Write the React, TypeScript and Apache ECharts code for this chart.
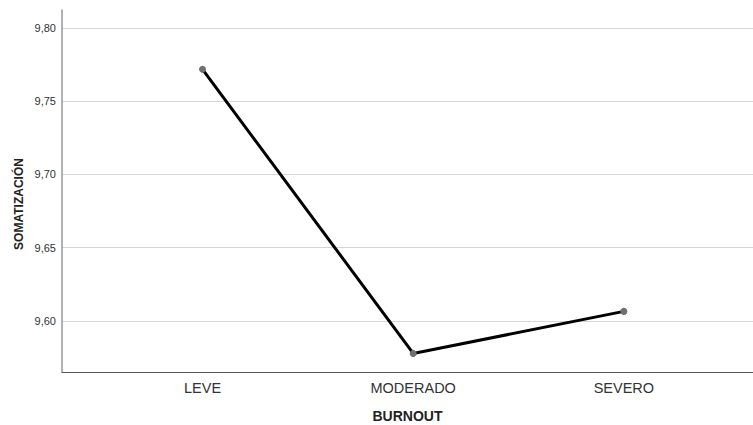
import React, { useEffect, useRef } from "react";
import * as echarts from "echarts";

const categories = ["LEVE", "MODERADO", "SEVERO"];
const values = [9.7718, 9.5777, 9.6064];
const yTicks = [9.6, 9.65, 9.7, 9.75, 9.8];
const yTitle = "SOMATIZACIÓN";
const xTitle = "BURNOUT";

export default function App() {
  const ref = useRef<HTMLDivElement>(null);
  useEffect(() => {
    const chart = echarts.init(ref.current!, null, { renderer: "svg" });
    const data = values.map((v, i) => [i, v]);
    chart.setOption({
      animation: false,
      grid: { left: 62, right: 0, top: 10, bottom: 53, containLabel: false, outerBoundsMode: "none" },
      graphic: [
        {
          type: "text",
          x: 19,
          y: 204,
          rotation: Math.PI / 2,
          style: {
            text: yTitle,
            align: "center",
            verticalAlign: "middle",
            fontFamily: "Arial, Liberation Sans",
            fontWeight: "bold",
            fontSize: 12,
            fill: "#222",
          },
        },
      ],
      xAxis: {
        type: "value",
        min: -0.667,
        max: 2.613,
        name: xTitle,
        nameLocation: "middle",
        nameGap: 37,
        nameTextStyle: { fontFamily: "Arial, Liberation Sans", fontWeight: "bold", fontSize: 14, color: "#222" },
        axisLine: { show: true, onZero: false, lineStyle: { color: "#555", width: 1 } },
        axisTick: { show: false, customValues: [0, 1, 2] },
        splitLine: { show: false },
        axisLabel: {
          customValues: [0, 1, 2],
          formatter: (v: number) => categories[Math.round(v)] ?? "",
          fontFamily: "Arial, Liberation Sans",
          fontSize: 14.5,
          color: "#333",
          margin: 8,
        },
      },
      yAxis: {
        type: "value",
        min: 9.565,
        max: 9.8123,
        axisLine: { show: true, onZero: false, lineStyle: { color: "#999", width: 1.5 } },
        axisTick: { show: false, customValues: yTicks },
        splitLine: { show: true, lineStyle: { color: "#d6d6d6", width: 1.2 } },
        axisLabel: {
          customValues: yTicks,
          formatter: (v: number) => v.toFixed(2).replace(".", ","),
          fontFamily: "Arial, Liberation Sans",
          fontSize: 11,
          color: "#333",
          margin: 6,
        },
      },
      series: [
        {
          type: "line",
          data,
          symbol: "circle",
          symbolSize: 7,
          lineStyle: { color: "#000", width: 3 },
          itemStyle: { color: "#707070" },
          z: 3,
        },
      ],
    });
    return () => chart.dispose();
  }, []);
  return (
    <div
      ref={ref}
      style={{ position: "fixed", left: 0, top: 0, width: 753, height: 425, background: "#fff" }}
    />
  );
}
